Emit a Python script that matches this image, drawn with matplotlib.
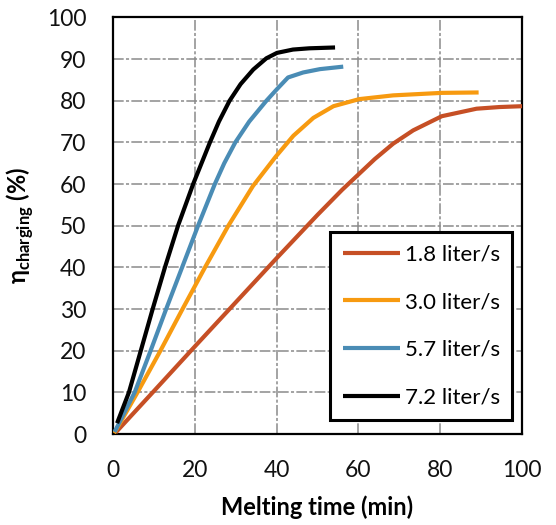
import matplotlib
matplotlib.use("Agg")
import matplotlib.pyplot as plt

# ---- data ----
labels = ["1.8 liter/s", "3.0 liter/s", "5.7 liter/s", "7.2 liter/s"]
colors = ["#C64F25", "#F79A10", "#4A8CB5", "#000000"]

x_18 = [0.7, 10.0, 20.0, 30.0, 40.0, 50.0, 56.0, 60.0, 64.0, 68.5, 73.4, 80.4, 88.9, 94.5, 100]
y_18 = [0.4, 10.3, 21.0, 31.6, 42.2, 52.6, 58.6, 62.3, 66.0, 69.7, 72.9, 76.3, 78.1, 78.5, 78.7]

x_30 = [0.3, 6.0, 11.6, 17.0, 22.5, 28.2, 34.2, 39.8, 44.1, 49.0, 53.9, 60.2, 68.5, 80.4, 89.4]
y_30 = [0.2, 10, 20, 30, 40, 50, 59.5, 66.6, 71.6, 75.9, 78.7, 80.4, 81.3, 81.9, 82.0]

x_57 = [0.4, 5.3, 9.2, 13.0, 16.9, 20.8, 24.9, 27.2, 29.9, 33.3, 37.5, 40.1, 42.8, 46.5, 50.6, 56.3]
y_57 = [0.5, 10, 20, 30, 40, 50, 60, 65, 70, 75, 80, 82.8, 85.6, 86.8, 87.6, 88.2]

x_72 = [1.0, 3.9, 6.8, 9.7, 12.7, 15.9, 19.6, 23.7, 25.9, 28.5, 31.2, 34.3, 37.5, 40.1, 44.0, 48.0, 54.3]
y_72 = [2.6, 10, 20, 30, 40, 50, 60, 70, 75, 80, 84, 87.5, 90.2, 91.5, 92.3, 92.6, 92.8]

series_x = [x_18, x_30, x_57, x_72]
series_y = [y_18, y_30, y_57, y_72]

xticks = [0, 20, 40, 60, 80, 100]
yticks = [0, 10, 20, 30, 40, 50, 60, 70, 80, 90, 100]

plt.rcParams['font.family'] = ['Lato', 'DejaVu Sans']
plt.rcParams['mathtext.fontset'] = 'custom'
plt.rcParams['mathtext.rm'] = 'Lato'
plt.rcParams['mathtext.bf'] = 'Lato:bold'

fig = plt.figure(figsize=(5.56, 5.25), dpi=100)
ax = fig.add_axes([0.2032, 0.1733, 0.7356, 0.7934])

for xs, ys, c, lab in zip(series_x, series_y, colors, labels):
    ax.plot(xs, ys, color=c, lw=3.0, label=lab, solid_joinstyle='round',
            solid_capstyle='butt', zorder=3)

ax.set_xlim(0, 100)
ax.set_ylim(0, 100)
ax.set_xticks(xticks)
ax.set_yticks(yticks)
ax.tick_params(length=0, labelsize=16.5, pad=19, colors='#111111')
ax.grid(True, color='#8a8a8a', lw=1.1, dashes=(7, 1.5, 2, 1.5), zorder=0)
ax.set_axisbelow(True)
for s in ax.spines.values():
    s.set_linewidth(1.6)
    s.set_color('black')

ax.set_xlabel("Melting time (min)", fontsize=17, fontweight='bold', labelpad=10)
ax.set_ylabel(r"$\mathbf{\eta}_{\mathbf{charging}}$ (%)", fontsize=17, fontweight='bold', labelpad=8)

leg = ax.legend(loc='lower right', bbox_to_anchor=(0.976, 0.034), borderaxespad=0,
                fontsize=16, frameon=True, fancybox=False, framealpha=1,
                edgecolor='black', handlelength=2.6, handletextpad=0.2,
                labelspacing=1.25, borderpad=0.55)
leg.get_frame().set_linewidth(2.2)
leg.set_zorder(5)

fig.savefig("out.png", dpi=100)
